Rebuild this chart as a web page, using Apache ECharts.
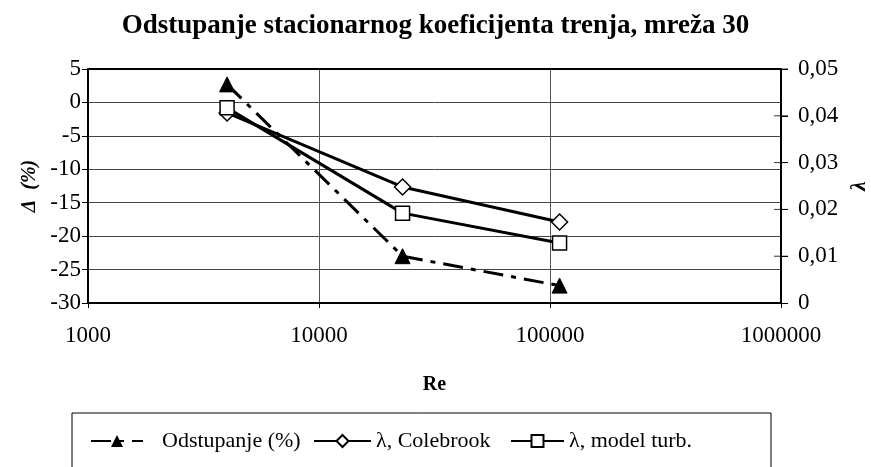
<!DOCTYPE html>
<html>
<head>
<meta charset="utf-8">
<script src="https://cdn.jsdelivr.net/npm/echarts@6/dist/echarts.min.js"></script>
<style>
html,body{margin:0;padding:0;background:#fff;}
#c{width:871px;height:467px;}
</style>
</head>
<body>
<div id="c"></div>
<script>
const re = [4000, 23000, 110000];
const odstupanje = [2.7, -23.0, -27.4];
const colebrook = [0.0406, 0.0248, 0.0173];
const modelTurb = [0.0417, 0.0192, 0.0128];
const leftTicks = [-30, -25, -20, -15, -10, -5, 0, 5];
const rightTicks = [0, 0.01, 0.02, 0.03, 0.04, 0.05];
const xTicks = [1000, 10000, 100000, 1000000];
const seriesNames = ['Odstupanje (%)', 'λ, Colebrook', 'λ, model turb.'];

const font = 'Liberation Serif';
const chart = echarts.init(document.getElementById('c'));
const pair = (xs, ys) => xs.map((x, i) => [x, ys[i]]);

const G = { left: 88, right: 781, top: 69, bottom: 303 };

function legendFor(name, left, w, pad) {
  return {
    data: [name], left: left, top: 430, itemWidth: w, itemHeight: 15, itemGap: 0,
    padding: 0,
    textStyle: { fontFamily: font, fontSize: 22, color: '#000', padding: [0, 0, 0, pad] }
  };
}

chart.setOption({
  animation: false,
  backgroundColor: '#fff',
  textStyle: { fontFamily: font, color: '#000' },
  title: {
    text: 'Odstupanje stacionarnog koeficijenta trenja, mreža 30',
    left: 'center', top: 8,
    textStyle: { fontFamily: font, fontSize: 27, fontWeight: 'bold', color: '#000' }
  },
  grid: { left: G.left, right: 871 - G.right, top: G.top, bottom: 467 - G.bottom,
    containLabel: false, outerBoundsMode: 'none' },
  xAxis: {
    type: 'log', logBase: 10, min: xTicks[0], max: xTicks[xTicks.length - 1],
    name: 'Re', nameLocation: 'middle', nameGap: 72,
    nameTextStyle: { fontFamily: font, fontSize: 20, fontWeight: 'bold', color: '#000' },
    axisLine: { show: true, onZero: false, lineStyle: { color: '#000', width: 2 } },
    axisTick: { show: true, length: 5, inside: false, lineStyle: { color: '#000' } },
    axisLabel: { fontFamily: font, fontSize: 23, color: '#000', margin: 21,
      formatter: v => String(Math.round(v)) },
    splitLine: { show: true, lineStyle: { color: '#555', width: 1 } },
    minorTick: { show: false }
  },
  yAxis: [
    {
      type: 'value', min: leftTicks[0], max: leftTicks[leftTicks.length - 1], interval: 5, position: 'left',
      name: 'Δ  (%)', nameLocation: 'middle', nameGap: 48, nameRotate: 90,
      nameTextStyle: { fontFamily: font, fontSize: 20, fontWeight: 'bold', fontStyle: 'italic', color: '#000' },
      axisLine: { show: true, onZero: false, lineStyle: { color: '#000', width: 2 } },
      axisTick: { show: true, length: 6, lineStyle: { color: '#000' } },
      axisLabel: { fontFamily: font, fontSize: 23, color: '#000', margin: 7 },
      splitLine: { show: true, lineStyle: { color: '#444', width: 1 } }
    },
    {
      type: 'value', min: rightTicks[0], max: rightTicks[rightTicks.length - 1], interval: 0.01, position: 'right',
      name: 'λ', nameLocation: 'middle', nameGap: 64, nameRotate: 90,
      nameTextStyle: { fontFamily: font, fontSize: 21, fontWeight: 'bold', fontStyle: 'italic', color: '#000' },
      axisLine: { show: true, onZero: false, lineStyle: { color: '#000', width: 2 } },
      axisTick: { show: true, length: 7, lineStyle: { color: '#000' } },
      axisLabel: { fontFamily: font, fontSize: 23, color: '#000', margin: 17,
        formatter: v => v === 0 ? '0' : v.toFixed(2).replace('.', ',') },
      splitLine: { show: false }
    }
  ],
  graphic: [
    { type: 'line', shape: { x1: G.left, y1: G.top, x2: G.right, y2: G.top }, style: { stroke: '#000', lineWidth: 2 }, z: 100 },
    { type: 'rect', shape: { x: 72, y: 413, width: 699, height: 80 }, style: { fill: 'none', stroke: '#000', lineWidth: 1 }, z: 100 }
  ],
  legend: [
    legendFor(seriesNames[0], 90, 52, 14),
    legendFor(seriesNames[1], 313, 57, 0),
    legendFor(seriesNames[2], 510, 53, 0)
  ],
  series: [
    {
      name: seriesNames[0], type: 'line', yAxisIndex: 0,
      data: pair(re, odstupanje),
      symbol: 'triangle', symbolSize: 15,
      itemStyle: { color: '#000', borderColor: '#000' },
      lineStyle: { color: '#000', width: 3, type: [20, 8, 5, 8] }
    },
    {
      name: seriesNames[1], type: 'line', yAxisIndex: 1,
      data: pair(re, colebrook),
      symbol: 'diamond', symbolSize: 16,
      itemStyle: { color: '#fff', borderColor: '#000', borderWidth: 1.5 },
      lineStyle: { color: '#000', width: 3 }
    },
    {
      name: seriesNames[2], type: 'line', yAxisIndex: 1,
      data: pair(re, modelTurb),
      symbol: 'rect', symbolSize: 14,
      itemStyle: { color: '#fff', borderColor: '#000', borderWidth: 1.5 },
      lineStyle: { color: '#000', width: 3 }
    },
    {
      // right-axis ticks crossing into the plot (drawn from the axis's own scale)
      type: 'scatter', yAxisIndex: 1, silent: true, legendHoverLink: false,
      data: rightTicks.slice(1).map(t => [xTicks[xTicks.length - 1], t]),
      symbol: 'rect', symbolSize: [14, 1], symbolOffset: [0, 0],
      itemStyle: { color: '#000' }, z: 1
    }
  ]
});
</script>
</body>
</html>
